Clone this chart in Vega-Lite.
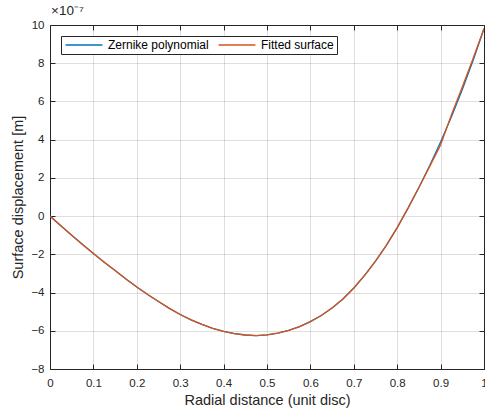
{
  "$schema": "https://vega.github.io/schema/vega-lite/v6.json",
  "width": 434,
  "height": 344,
  "autosize": {"type": "none"},
  "padding": {"left": 50, "top": 25, "right": 1, "bottom": 46},
  "background": "white",
  "title": {"text": "×10⁻⁷", "anchor": "start", "frame": "group", "fontSize": 13.5, "fontWeight": "normal", "font": "Liberation Sans", "color": "#262626", "offset": 2, "dx": 1},
  "config": {
    "view": {"stroke": "#262626", "strokeWidth": 1},
    "axis": {
      "domain": false,
      "grid": true,
      "gridColor": "#262626",
      "gridOpacity": 0.15,
      "gridWidth": 1,
      "tickColor": "#262626",
      "tickSize": -5,
      "labelFont": "Liberation Sans",
      "labelFontSize": 11.5,
      "labelColor": "#262626",
      "labelFlush": false,
      "labelOverlap": false,
      "titleFont": "Liberation Sans",
      "titleFontSize": 14.5,
      "titleFontWeight": "normal",
      "titleColor": "#262626"
    }
  },
  "data": {"values": [
    {"series": "Zernike polynomial", "r": 0, "displacement": 0},
    {"series": "Zernike polynomial", "r": 0.025, "displacement": -0.5},
    {"series": "Zernike polynomial", "r": 0.05, "displacement": -1.0},
    {"series": "Zernike polynomial", "r": 0.075, "displacement": -1.48},
    {"series": "Zernike polynomial", "r": 0.1, "displacement": -1.95},
    {"series": "Zernike polynomial", "r": 0.125, "displacement": -2.41},
    {"series": "Zernike polynomial", "r": 0.15, "displacement": -2.85},
    {"series": "Zernike polynomial", "r": 0.175, "displacement": -3.29},
    {"series": "Zernike polynomial", "r": 0.2, "displacement": -3.71},
    {"series": "Zernike polynomial", "r": 0.225, "displacement": -4.1},
    {"series": "Zernike polynomial", "r": 0.25, "displacement": -4.47},
    {"series": "Zernike polynomial", "r": 0.275, "displacement": -4.83},
    {"series": "Zernike polynomial", "r": 0.3, "displacement": -5.15},
    {"series": "Zernike polynomial", "r": 0.325, "displacement": -5.43},
    {"series": "Zernike polynomial", "r": 0.35, "displacement": -5.67},
    {"series": "Zernike polynomial", "r": 0.375, "displacement": -5.87},
    {"series": "Zernike polynomial", "r": 0.4, "displacement": -6.03},
    {"series": "Zernike polynomial", "r": 0.425, "displacement": -6.15},
    {"series": "Zernike polynomial", "r": 0.45, "displacement": -6.22},
    {"series": "Zernike polynomial", "r": 0.475, "displacement": -6.25},
    {"series": "Zernike polynomial", "r": 0.5, "displacement": -6.21},
    {"series": "Zernike polynomial", "r": 0.525, "displacement": -6.12},
    {"series": "Zernike polynomial", "r": 0.55, "displacement": -5.98},
    {"series": "Zernike polynomial", "r": 0.575, "displacement": -5.78},
    {"series": "Zernike polynomial", "r": 0.6, "displacement": -5.52},
    {"series": "Zernike polynomial", "r": 0.625, "displacement": -5.2},
    {"series": "Zernike polynomial", "r": 0.65, "displacement": -4.81},
    {"series": "Zernike polynomial", "r": 0.675, "displacement": -4.34},
    {"series": "Zernike polynomial", "r": 0.7, "displacement": -3.76},
    {"series": "Zernike polynomial", "r": 0.725, "displacement": -3.1},
    {"series": "Zernike polynomial", "r": 0.75, "displacement": -2.36},
    {"series": "Zernike polynomial", "r": 0.775, "displacement": -1.53},
    {"series": "Zernike polynomial", "r": 0.8, "displacement": -0.6},
    {"series": "Zernike polynomial", "r": 0.825, "displacement": 0.42},
    {"series": "Zernike polynomial", "r": 0.85, "displacement": 1.5},
    {"series": "Zernike polynomial", "r": 0.875, "displacement": 2.65},
    {"series": "Zernike polynomial", "r": 0.9, "displacement": 3.88},
    {"series": "Zernike polynomial", "r": 0.925, "displacement": 5.2},
    {"series": "Zernike polynomial", "r": 0.95, "displacement": 6.62},
    {"series": "Zernike polynomial", "r": 0.975, "displacement": 8.15},
    {"series": "Zernike polynomial", "r": 1.0, "displacement": 9.8},
    {"series": "Fitted surface", "r": 0, "displacement": 0},
    {"series": "Fitted surface", "r": 0.025, "displacement": -0.5},
    {"series": "Fitted surface", "r": 0.05, "displacement": -1.0},
    {"series": "Fitted surface", "r": 0.075, "displacement": -1.48},
    {"series": "Fitted surface", "r": 0.1, "displacement": -1.95},
    {"series": "Fitted surface", "r": 0.125, "displacement": -2.41},
    {"series": "Fitted surface", "r": 0.15, "displacement": -2.85},
    {"series": "Fitted surface", "r": 0.175, "displacement": -3.29},
    {"series": "Fitted surface", "r": 0.2, "displacement": -3.71},
    {"series": "Fitted surface", "r": 0.225, "displacement": -4.1},
    {"series": "Fitted surface", "r": 0.25, "displacement": -4.47},
    {"series": "Fitted surface", "r": 0.275, "displacement": -4.83},
    {"series": "Fitted surface", "r": 0.3, "displacement": -5.15},
    {"series": "Fitted surface", "r": 0.325, "displacement": -5.43},
    {"series": "Fitted surface", "r": 0.35, "displacement": -5.67},
    {"series": "Fitted surface", "r": 0.375, "displacement": -5.87},
    {"series": "Fitted surface", "r": 0.4, "displacement": -6.03},
    {"series": "Fitted surface", "r": 0.425, "displacement": -6.15},
    {"series": "Fitted surface", "r": 0.45, "displacement": -6.22},
    {"series": "Fitted surface", "r": 0.475, "displacement": -6.25},
    {"series": "Fitted surface", "r": 0.5, "displacement": -6.21},
    {"series": "Fitted surface", "r": 0.525, "displacement": -6.12},
    {"series": "Fitted surface", "r": 0.55, "displacement": -5.98},
    {"series": "Fitted surface", "r": 0.575, "displacement": -5.78},
    {"series": "Fitted surface", "r": 0.6, "displacement": -5.52},
    {"series": "Fitted surface", "r": 0.625, "displacement": -5.2},
    {"series": "Fitted surface", "r": 0.65, "displacement": -4.81},
    {"series": "Fitted surface", "r": 0.675, "displacement": -4.34},
    {"series": "Fitted surface", "r": 0.7, "displacement": -3.76},
    {"series": "Fitted surface", "r": 0.725, "displacement": -3.1},
    {"series": "Fitted surface", "r": 0.75, "displacement": -2.36},
    {"series": "Fitted surface", "r": 0.775, "displacement": -1.53},
    {"series": "Fitted surface", "r": 0.8, "displacement": -0.6},
    {"series": "Fitted surface", "r": 0.825, "displacement": 0.42},
    {"series": "Fitted surface", "r": 0.85, "displacement": 1.5},
    {"series": "Fitted surface", "r": 0.875, "displacement": 2.6},
    {"series": "Fitted surface", "r": 0.9, "displacement": 3.72},
    {"series": "Fitted surface", "r": 0.925, "displacement": 5.3},
    {"series": "Fitted surface", "r": 0.95, "displacement": 6.76},
    {"series": "Fitted surface", "r": 0.975, "displacement": 8.26},
    {"series": "Fitted surface", "r": 1.0, "displacement": 9.82}
  ]},
  "resolve": {"axis": {"x": "independent", "y": "independent"}},
  "layer": [
    {
      "mark": {"type": "line", "strokeWidth": 1.3, "clip": true},
      "encoding": {
        "x": {"field": "r", "type": "quantitative",
          "scale": {"domain": [0, 1], "nice": false, "zero": false},
          "axis": {"title": "Radial distance (unit disc)", "values": [0, 0.1, 0.2, 0.3, 0.4, 0.5, 0.6, 0.7, 0.8, 0.9, 1], "format": "~g", "labelPadding": 13, "titlePadding": 5}},
        "y": {"field": "displacement", "type": "quantitative",
          "scale": {"domain": [-8, 10], "nice": false, "zero": false},
          "axis": {"title": "Surface displacement [m]", "values": [-8, -6, -4, -2, 0, 2, 4, 6, 8, 10], "format": "d", "labelPadding": 11, "titlePadding": 5}},
        "color": {"field": "series", "type": "nominal",
          "scale": {"domain": ["Zernike polynomial", "Fitted surface"], "range": ["#0072BD", "#D95319"]},
          "sort": ["Zernike polynomial", "Fitted surface"],
          "legend": {"title": null, "orient": "none", "legendX": 11, "legendY": 11, "direction": "horizontal",
            "symbolType": "M-4,0H4", "symbolSize": 85, "symbolStrokeWidth": 1.3, "symbolOffset": 14,
            "strokeColor": "#262626", "fillColor": "white", "padding": 3, "columnPadding": 6, "labelOffset": 18,
            "labelFont": "Liberation Sans", "labelFontSize": 12, "labelColor": "#000000", "labelLimit": 300}}
      }
    },
    {
      "mark": {"type": "line", "opacity": 0},
      "encoding": {
        "x": {"field": "r", "type": "quantitative",
          "axis": {"orient": "top", "labels": false, "grid": false, "title": null, "values": [0, 0.1, 0.2, 0.3, 0.4, 0.5, 0.6, 0.7, 0.8, 0.9, 1]}},
        "y": {"field": "displacement", "type": "quantitative",
          "axis": {"orient": "right", "labels": false, "grid": false, "title": null, "values": [-8, -6, -4, -2, 0, 2, 4, 6, 8, 10]}},
        "detail": {"field": "series"}
      }
    }
  ]
}
